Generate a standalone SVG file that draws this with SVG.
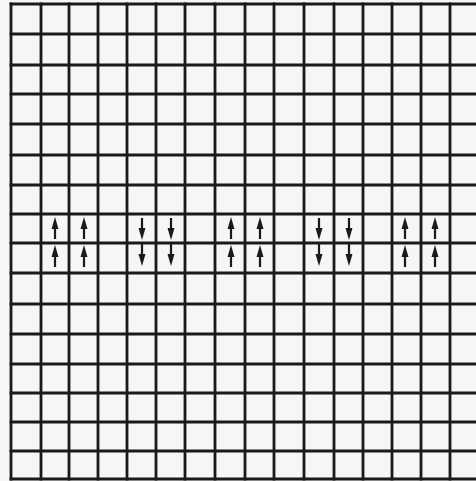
<svg xmlns="http://www.w3.org/2000/svg" width="476" height="481" viewBox="0 0 476 481">
  <style>
    .grid { stroke: #1a1a1a; stroke-width: 2.8; fill: none; stroke-linecap: square; }
    .shaft { stroke: #1a1a1a; stroke-width: 2.2; }
    .head { fill: #1a1a1a; }
  </style>
  <defs>
    <g id="up">
      <line class="shaft" x1="0" y1="9" x2="0" y2="22"/>
      <polygon class="head" points="0,0 -3.5,12 3.5,12"/>
    </g>
    <g id="down">
      <line class="shaft" x1="0" y1="-9" x2="0" y2="-22"/>
      <polygon class="head" points="0,0 -3.5,-12 3.5,-12"/>
    </g>
  </defs>
  <rect x="0" y="0" width="476" height="481" fill="#f6f6f6"/>
  <g id="grid" class="grid">
    <path d="M11,4V479 M41,4V479 M69,4V479 M98,4V479 M127,4V479 M156,4V479 M185,4V479 M215,4V479 M245,4V479 M274,4V479 M304,4V479 M334,4V479 M363,4V479 M392,4V479 M421,4V479 M450,4V479"/>
    <path d="M11,4H476 M11,34H476 M11,65H476 M11,94H476 M11,124H476 M11,155H476 M11,185H476 M11,214H476 M11,243H476 M11,273H476 M11,304H476 M11,334H476 M11,364H476 M11,393H476 M11,422H476 M11,451H476 M11,479H476"/>
  </g>
  <g id="arrows">
    <use href="#up" x="55" y="217"/><use href="#up" x="55" y="245"/>
    <use href="#up" x="84" y="217"/><use href="#up" x="84" y="245"/>
    <use href="#down" x="142" y="240"/><use href="#down" x="142" y="266"/>
    <use href="#down" x="171" y="240"/><use href="#down" x="171" y="266"/>
    <use href="#up" x="231" y="217"/><use href="#up" x="231" y="245"/>
    <use href="#up" x="260" y="217"/><use href="#up" x="260" y="245"/>
    <use href="#down" x="319" y="240"/><use href="#down" x="319" y="266"/>
    <use href="#down" x="349" y="240"/><use href="#down" x="349" y="266"/>
    <use href="#up" x="405" y="217"/><use href="#up" x="405" y="245"/>
    <use href="#up" x="435" y="217"/><use href="#up" x="435" y="245"/>
  </g>
</svg>
